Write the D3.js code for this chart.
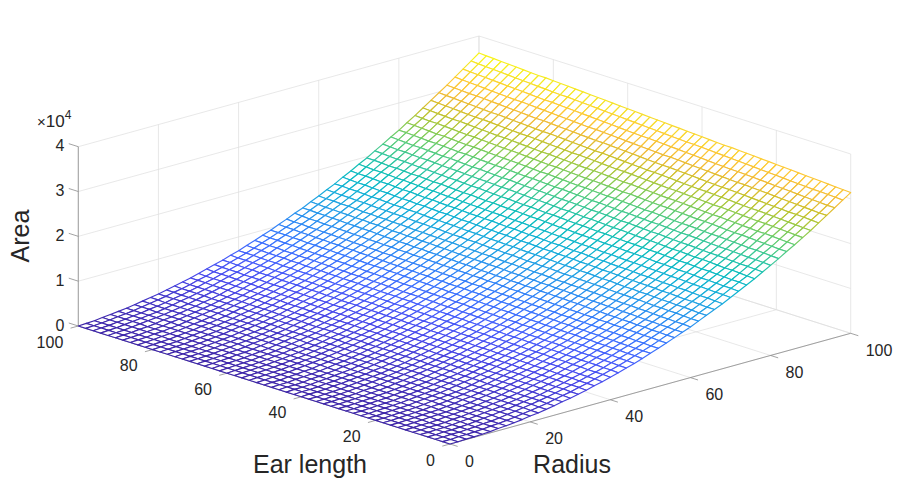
<!DOCTYPE html>
<html>
<head>
<meta charset="utf-8">
<script src="https://cdn.jsdelivr.net/npm/d3@7"></script>
<style>
  html, body { margin: 0; padding: 0; background: #fff; }
  svg { display: block; font-family: "Liberation Sans", Arial, Helvetica, sans-serif; }
</style>
</head>
<body>
<script>
// grid the mesh is sampled on
const radius = [0,2,4,6,8,10,12,14,16,18,20,22,24,26,28,30,32,34,36,38,40,42,44,46,48,50,
  52,54,56,58,60,62,64,66,68,70,72,74,76,78,80,82,84,86,88,90,92,94,96,98,100];
const earLength = [0,2,4,6,8,10,12,14,16,18,20,22,24,26,28,30,32,34,36,38,40,42,44,46,48,50,
  52,54,56,58,60,62,64,66,68,70,72,74,76,78,80,82,84,86,88,90,92,94,96,98,100];

const radiusTicks = [0, 20, 40, 60, 80, 100];
const earTicks = [0, 20, 40, 60, 80, 100];
const areaTicks = [0, 100, 200, 300, 400];          // in hundreds
const areaTickLabels = ['0', '1', '2', '3', '4'];   // shown x10^4

// area / 100, one row per radius value, columns follow earLength
const areaHundreds = [
  [0,0,0,0,0,0,0,0,0,0, 0,0,0,0,0,0,0,0,0,0, 0,0,0,0,0,0,0,0,0,0, 0,0,0,0,0,0,0,0,0,0, 0,0,0,0,0,0,0,0,0,0, 0],
  [0,0,0,0,0,0,0,0,0,0, 0,0,0,0,0,0,0,0,0,0, 1,1,1,1,1,1,1,1,1,1, 1,1,1,1,1,1,1,1,1,1, 1,1,1,1,1,1,1,1,1,1, 1],
  [1,1,1,1,1,1,1,1,1,1, 1,1,1,1,1,1,1,1,1,1, 1,1,1,1,1,1,2,2,2,2, 2,2,2,2,2,2,2,2,2,2, 2,2,2,2,2,2,2,2,2,2, 2],
  [1,1,1,1,1,1,1,2,2,2, 2,2,2,2,2,2,2,2,2,2, 2,2,2,2,3,3,3,3,3,3, 3,3,3,3,3,3,3,3,3,3, 3,3,4,4,4,4,4,4,4,4, 4],
  [2,2,2,2,2,2,2,3,3,3, 3,3,3,3,3,3,3,3,3,3, 4,4,4,4,4,4,4,4,4,4, 4,4,4,5,5,5,5,5,5,5, 5,5,5,5,5,5,6,6,6,6, 6],
  [3,3,3,3,4,4,4,4,4,4, 4,4,4,4,4,5,5,5,5,5, 5,5,5,5,5,6,6,6,6,6, 6,6,6,6,6,7,7,7,7,7, 7,7,7,7,7,7,8,8,8,8, 8],
  [5,5,5,5,5,5,5,5,5,6, 6,6,6,6,6,6,6,6,7,7, 7,7,7,7,7,7,8,8,8,8, 8,8,8,8,8,9,9,9,9,9, 9,9,9,9,10,10,10,10,10,10, 10],
  [6,6,6,7,7,7,7,7,7,7, 8,8,8,8,8,8,8,8,9,9, 9,9,9,9,9,10,10,10,10,10, 10,10,10,11,11,11,11,11,11,11, 12,12,12,12,12,12,12,12,13,13, 13],
  [8,8,8,9,9,9,9,9,9,9, 10,10,10,10,10,10,11,11,11,11, 11,11,11,12,12,12,12,12,12,12, 13,13,13,13,13,13,14,14,14,14, 14,14,14,15,15,15,15,15,15,16, 16],
  [10,10,11,11,11,11,11,11,12,12, 12,12,12,12,13,13,13,13,13,13, 14,14,14,14,14,14,15,15,15,15, 15,16,16,16,16,16,16,17,17,17, 17,17,17,18,18,18,18,18,18,19, 19],
  [13,13,13,13,13,14,14,14,14,14, 14,15,15,15,15,15,16,16,16,16, 16,17,17,17,17,17,18,18,18,18, 18,19,19,19,19,19,19,20,20,20, 20,20,21,21,21,21,21,22,22,22, 22],
  [15,15,16,16,16,16,16,17,17,17, 17,18,18,18,18,18,19,19,19,19, 19,20,20,20,20,20,21,21,21,21, 22,22,22,22,22,23,23,23,23,23, 24,24,24,24,24,25,25,25,25,26, 26],
  [18,18,19,19,19,19,19,20,20,20, 20,21,21,21,21,22,22,22,22,22, 23,23,23,23,24,24,24,24,25,25, 25,25,25,26,26,26,26,27,27,27, 27,28,28,28,28,28,29,29,29,29, 30],
  [21,21,22,22,22,22,23,23,23,23, 24,24,24,24,25,25,25,25,26,26, 26,26,27,27,27,27,28,28,28,28, 29,29,29,29,30,30,30,30,31,31, 31,31,32,32,32,32,33,33,33,33, 34],
  [25,25,25,25,26,26,26,27,27,27, 27,28,28,28,28,29,29,29,29,30, 30,30,31,31,31,31,32,32,32,32, 33,33,33,34,34,34,34,35,35,35, 35,36,36,36,36,37,37,37,38,38, 38],
  [28,29,29,29,29,30,30,30,31,31, 31,31,32,32,32,33,33,33,33,34, 34,34,35,35,35,35,36,36,36,37, 37,37,37,38,38,38,39,39,39,40, 40,40,40,41,41,41,42,42,42,42, 43],
  [32,32,33,33,33,34,34,34,35,35, 35,36,36,36,36,37,37,37,38,38, 38,39,39,39,40,40,40,40,41,41, 41,42,42,42,43,43,43,44,44,44, 44,45,45,45,46,46,46,47,47,47, 48],
  [36,37,37,37,38,38,38,39,39,39, 40,40,40,41,41,41,42,42,42,43, 43,43,43,44,44,44,45,45,45,46, 46,46,47,47,47,48,48,48,49,49, 49,50,50,50,51,51,51,52,52,52, 53],
  [41,41,41,42,42,42,43,43,43,44, 44,45,45,45,46,46,46,47,47,47, 48,48,48,49,49,49,50,50,50,51, 51,51,52,52,52,53,53,54,54,54, 55,55,55,56,56,56,57,57,57,58, 58],
  [45,46,46,46,47,47,48,48,48,49, 49,49,50,50,50,51,51,52,52,52, 53,53,53,54,54,54,55,55,56,56, 56,57,57,57,58,58,58,59,59,60, 60,60,61,61,61,62,62,63,63,63, 64],
  [50,51,51,51,52,52,53,53,53,54, 54,54,55,55,56,56,56,57,57,58, 58,58,59,59,59,60,60,61,61,61, 62,62,63,63,63,64,64,64,65,65, 66,66,66,67,67,68,68,68,69,69, 69],
  [55,56,56,57,57,57,58,58,59,59, 59,60,60,61,61,61,62,62,63,63, 63,64,64,65,65,65,66,66,67,67, 68,68,68,69,69,70,70,70,71,71, 72,72,72,73,73,74,74,74,75,75, 76],
  [61,61,62,62,63,63,63,64,64,65, 65,65,66,66,67,67,68,68,68,69, 69,70,70,71,71,71,72,72,73,73, 73,74,74,75,75,76,76,76,77,77, 78,78,79,79,79,80,80,81,81,82, 82],
  [66,67,67,68,68,69,69,70,70,70, 71,71,72,72,73,73,74,74,74,75, 75,76,76,77,77,78,78,78,79,79, 80,80,81,81,81,82,82,83,83,84, 84,85,85,85,86,86,87,87,88,88, 89],
  [72,73,73,74,74,75,75,76,76,77, 77,77,78,78,79,79,80,80,81,81, 82,82,83,83,83,84,84,85,85,86, 86,87,87,88,88,89,89,89,90,90, 91,91,92,92,93,93,94,94,95,95, 95],
  [79,79,79,80,80,81,81,82,82,83, 83,84,84,85,85,86,86,87,87,88, 88,89,89,90,90,91,91,91,92,92, 93,93,94,94,95,95,96,96,97,97, 98,98,99,99,100,100,101,101,102,102, 103],
  [85,85,86,86,87,87,88,88,89,89, 90,90,91,91,92,92,93,93,94,94, 95,95,96,96,97,97,98,98,99,99, 100,100,101,101,102,102,103,103,104,104, 105,105,106,106,107,107,108,108,109,109, 110],
  [92,92,93,93,94,94,95,95,96,96, 97,97,98,98,99,99,100,100,101,101, 102,102,103,104,104,105,105,106,106,107, 107,108,108,109,109,110,110,111,111,112, 112,113,113,114,114,115,115,116,116,117, 118],
  [99,99,100,100,101,101,102,102,103,103, 104,104,105,106,106,107,107,108,108,109, 109,110,110,111,111,112,112,113,114,114, 115,115,116,116,117,117,118,118,119,119, 120,121,121,122,122,123,123,124,124,125, 125],
  [106,106,107,107,108,108,109,110,110,111, 111,112,112,113,113,114,115,115,116,116, 117,117,118,118,119,120,120,121,121,122, 122,123,124,124,125,125,126,126,127,127, 128,129,129,130,130,131,131,132,132,133, 134],
  [113,114,114,115,115,116,117,117,118,118, 119,119,120,121,121,122,122,123,123,124, 125,125,126,126,127,127,128,129,129,130, 130,131,132,132,133,133,134,134,135,136, 136,137,137,138,138,139,140,140,141,141, 142],
  [121,121,122,123,123,124,124,125,126,126, 127,127,128,129,129,130,130,131,131,132, 133,133,134,134,135,136,136,137,137,138, 139,139,140,140,141,142,142,143,143,144, 145,145,146,146,147,148,148,149,149,150, 151],
  [129,129,130,131,131,132,132,133,134,134, 135,135,136,137,137,138,139,139,140,140, 141,142,142,143,143,144,145,145,146,146, 147,148,148,149,150,150,151,151,152,153, 153,154,154,155,156,156,157,158,158,159, 159],
  [137,137,138,139,139,140,141,141,142,143, 143,144,144,145,146,146,147,148,148,149, 150,150,151,151,152,153,153,154,155,155, 156,156,157,158,158,159,160,160,161,162, 162,163,163,164,165,165,166,167,167,168, 169],
  [145,146,147,147,148,149,149,150,150,151, 152,152,153,154,154,155,156,156,157,158, 158,159,160,160,161,162,162,163,164,164, 165,166,166,167,167,168,169,169,170,171, 171,172,173,173,174,175,175,176,177,177, 178],
  [154,155,155,156,157,157,158,159,159,160, 161,161,162,163,163,164,165,165,166,167, 167,168,169,169,170,171,171,172,173,173, 174,175,175,176,177,177,178,179,179,180, 181,181,182,183,184,184,185,186,186,187, 188],
  [163,164,164,165,166,166,167,168,168,169, 170,170,171,172,173,173,174,175,175,176, 177,177,178,179,179,180,181,182,182,183, 184,184,185,186,186,187,188,188,189,190, 191,191,192,193,193,194,195,195,196,197, 197],
  [172,173,173,174,175,176,176,177,178,178, 179,180,181,181,182,183,183,184,185,186, 186,187,188,188,189,190,191,191,192,193, 193,194,195,195,196,197,198,198,199,200, 200,201,202,203,203,204,205,205,206,207, 208],
  [181,182,183,184,184,185,186,187,187,188, 189,189,190,191,192,192,193,194,195,195, 196,197,198,198,199,200,200,201,202,203, 203,204,205,206,206,207,208,208,209,210, 211,211,212,213,214,214,215,216,216,217, 218],
  [191,192,193,193,194,195,196,196,197,198, 199,199,200,201,202,202,203,204,205,205, 206,207,208,208,209,210,211,211,212,213, 214,214,215,216,217,217,218,219,220,220, 221,222,223,223,224,225,226,226,227,228, 229],
  [201,202,203,203,204,205,206,206,207,208, 209,210,210,211,212,213,213,214,215,216, 216,217,218,219,219,220,221,222,223,223, 224,225,226,226,227,228,229,229,230,231, 232,233,233,234,235,236,236,237,238,239, 239],
  [211,212,213,214,214,215,216,217,218,218, 219,220,221,221,222,223,224,225,225,226, 227,228,229,229,230,231,232,232,233,234, 235,236,236,237,238,239,240,240,241,242, 243,244,244,245,246,247,247,248,249,250, 251],
  [222,222,223,224,225,226,227,227,228,229, 230,231,231,232,233,234,235,235,236,237, 238,239,239,240,241,242,243,243,244,245, 246,247,247,248,249,250,251,252,252,253, 254,255,256,256,257,258,259,260,260,261, 262],
  [232,233,234,235,236,236,237,238,239,240, 241,241,242,243,244,245,246,246,247,248, 249,250,251,251,252,253,254,255,255,256, 257,258,259,260,260,261,262,263,264,265, 265,266,267,268,269,270,270,271,272,273, 274],
  [243,244,245,246,247,248,248,249,250,251, 252,253,253,254,255,256,257,258,258,259, 260,261,262,263,264,264,265,266,267,268, 269,269,270,271,272,273,274,275,275,276, 277,278,279,280,280,281,282,283,284,285, 286],
  [254,255,256,257,258,259,260,261,261,262, 263,264,265,266,267,267,268,269,270,271, 272,273,273,274,275,276,277,278,279,279, 280,281,282,283,284,285,285,286,287,288, 289,290,291,291,292,293,294,295,296,297, 298],
  [266,267,268,269,269,270,271,272,273,274, 275,276,277,277,278,279,280,281,282,283, 284,284,285,286,287,288,289,290,291,292, 292,293,294,295,296,297,298,299,299,300, 301,302,303,304,305,306,307,307,308,309, 310],
  [278,278,279,280,281,282,283,284,285,286, 287,288,288,289,290,291,292,293,294,295, 296,297,297,298,299,300,301,302,303,304, 305,306,306,307,308,309,310,311,312,313, 314,315,315,316,317,318,319,320,321,322, 323],
  [290,290,291,292,293,294,295,296,297,298, 299,300,301,302,302,303,304,305,306,307, 308,309,310,311,312,313,313,314,315,316, 317,318,319,320,321,322,323,324,325,325, 326,327,328,329,330,331,332,333,334,335, 336],
  [302,303,304,305,305,306,307,308,309,310, 311,312,313,314,315,316,317,318,319,320, 321,321,322,323,324,325,326,327,328,329, 330,331,332,333,334,335,336,337,337,338, 339,340,341,342,343,344,345,346,347,348, 349],
  [314,315,316,317,318,319,320,321,322,323, 324,325,326,327,328,329,330,330,331,332, 333,334,335,336,337,338,339,340,341,342, 343,344,345,346,347,348,349,350,351,352, 353,354,354,355,356,357,358,359,360,361, 362]
];

areaHundreds.forEach((row, i) => {
  if (row.length !== earLength.length) throw new Error('row ' + i + ' has ' + row.length + ' values');
});

// MATLAB parula, sampled
const parula = [
  [0.000, '#3e26a8'], [0.111, '#4747eb'], [0.175, '#465efb'], [0.238, '#3875fe'],
  [0.302, '#2d8cf3'], [0.365, '#23a0e5'], [0.429, '#12b1d6'], [0.492, '#0bbdbd'],
  [0.556, '#31c69f'], [0.619, '#57cc7a'], [0.683, '#8fcb4e'], [0.746, '#c5c22a'],
  [0.810, '#f0ba36'], [0.873, '#fec934'], [0.937, '#f5e327'], [1.000, '#f9fb15']
];

const width = 900, height = 500;
const textColor = '#262626';
const gridColor = '#dedede';

const svg = d3.select('body').append('svg')
  .attr('width', width)
  .attr('height', height);

svg.append('rect').attr('width', width).attr('height', height).attr('fill', '#fff');

// projected box: origin corner, radius edge, ear-length edge, height of z range
const origin = [450, 444];
const rVec = [400.7, -110.7];
const eVec = [-371.7, -118];

const rScale = d3.scaleLinear().domain([0, 100]).range([0, 1]);
const eScale = d3.scaleLinear().domain([0, 100]).range([0, 1]);
const zScale = d3.scaleLinear().domain([0, 400]).range([0, 179.3]);

function project(r, e, a) {
  const u = rScale(r), v = eScale(e);
  return [origin[0] + rVec[0] * u + eVec[0] * v,
          origin[1] + rVec[1] * u + eVec[1] * v - zScale(a)];
}

// grid on the back walls and the floor
const gridSegs = [];
radiusTicks.forEach(r => gridSegs.push([project(r, 100, 0), project(r, 100, 400)]));
areaTicks.forEach(a => gridSegs.push([project(0, 100, a), project(100, 100, a)]));
earTicks.forEach(e => gridSegs.push([project(100, e, 0), project(100, e, 400)]));
areaTicks.forEach(a => gridSegs.push([project(100, 0, a), project(100, 100, a)]));
radiusTicks.forEach(r => gridSegs.push([project(r, 0, 0), project(r, 100, 0)]));
earTicks.forEach(e => gridSegs.push([project(0, e, 0), project(100, e, 0)]));

svg.append('g')
  .selectAll('line')
  .data(gridSegs)
  .join('line')
  .attr('x1', d => d[0][0]).attr('y1', d => d[0][1])
  .attr('x2', d => d[1][0]).attr('y2', d => d[1][1])
  .attr('stroke', gridColor)
  .attr('stroke-width', 0.7);

// axis lines and ticks
const unit = v => { const l = Math.hypot(v[0], v[1]); return [v[0] / l, v[1] / l]; };
const rOut = unit([-eVec[0], -eVec[1]]);   // radius ticks point away from the ear axis
const eOut = unit([-rVec[0], -rVec[1]]);
const zOut = unit(eVec);

const axisG = svg.append('g').attr('stroke', '#8c8c8c').attr('stroke-width', 0.8);
const axisSegs = [
  [project(0, 0, 0), project(100, 0, 0)],
  [project(0, 0, 0), project(0, 100, 0)],
  [project(0, 100, 0), project(0, 100, 400)]
];
radiusTicks.forEach(r => { const p = project(r, 0, 0); axisSegs.push([p, [p[0] + rOut[0] * 8, p[1] + rOut[1] * 8]]); });
earTicks.forEach(e => { const p = project(0, e, 0); axisSegs.push([p, [p[0] + eOut[0] * 8, p[1] + eOut[1] * 8]]); });
areaTicks.forEach(a => { const p = project(0, 100, a); axisSegs.push([p, [p[0] + zOut[0] * 10, p[1] + zOut[1] * 10]]); });

axisG.selectAll('line')
  .data(axisSegs)
  .join('line')
  .attr('x1', d => d[0][0]).attr('y1', d => d[0][1])
  .attr('x2', d => d[1][0]).attr('y2', d => d[1][1]);

// mesh surface, painted back to front with white faces
const maxArea = d3.max(areaHundreds, row => d3.max(row));
const color = d3.scaleLinear()
  .domain(parula.map(d => d[0] * maxArea))
  .range(parula.map(d => d[1]))
  .interpolate(d3.interpolateRgb)
  .clamp(true);

const cells = [];
for (let i = 0; i < radius.length - 1; i++) {
  for (let j = 0; j < earLength.length - 1; j++) {
    const corners = [[i, j], [i + 1, j], [i + 1, j + 1], [i, j + 1]];
    const pts = corners.map(([a, b]) => project(radius[a], earLength[b], areaHundreds[a][b]));
    const mean = d3.mean(corners, ([a, b]) => areaHundreds[a][b]);
    cells.push({ pts, mean, depth: 0.68 * (i + 0.5) + 0.72 * (j + 0.5) });
  }
}
cells.sort((a, b) => b.depth - a.depth);

svg.append('g')
  .selectAll('path')
  .data(cells)
  .join('path')
  .attr('d', d => 'M' + d.pts.map(p => p[0].toFixed(2) + ',' + p[1].toFixed(2)).join('L') + 'Z')
  .attr('fill', '#fff')
  .attr('stroke', d => color(d.mean))
  .attr('stroke-width', 1.15)
  .attr('stroke-linejoin', 'round');

// tick labels
const labels = svg.append('g').attr('fill', textColor).style('font-size', '16px');

labels.selectAll('.rt')
  .data(radiusTicks)
  .join('text')
  .attr('class', 'rt')
  .attr('x', d => project(d, 0, 0)[0] + 15)
  .attr('y', d => project(d, 0, 0)[1] + 17)
  .attr('dominant-baseline', 'central')
  .attr('text-anchor', 'start')
  .text(d => d);

labels.selectAll('.et')
  .data(earTicks)
  .join('text')
  .attr('class', 'et')
  .attr('x', d => project(0, d, 0)[0] - 15)
  .attr('y', d => project(0, d, 0)[1] + 16)
  .attr('dominant-baseline', 'central')
  .attr('text-anchor', 'end')
  .text(d => d);

labels.selectAll('.zt')
  .data(areaTicks)
  .join('text')
  .attr('class', 'zt')
  .attr('x', d => project(0, 100, d)[0] - 14)
  .attr('y', d => project(0, 100, d)[1] - 1)
  .attr('dominant-baseline', 'central')
  .attr('text-anchor', 'end')
  .text((d, i) => areaTickLabels[i]);

const expo = labels.append('text').attr('x', 37).attr('y', 127);
expo.append('tspan').style('font-size', '15px').text('\u00d7');
expo.append('tspan').style('font-size', '17px').text('10');
expo.append('tspan').style('font-size', '12px').attr('dy', -8).text('4');

// axis titles
const titles = svg.append('g').attr('fill', textColor).style('font-size', '25px');
titles.append('text').attr('x', 310).attr('y', 473).attr('text-anchor', 'middle').text('Ear length');
titles.append('text').attr('x', 572).attr('y', 473).attr('text-anchor', 'middle').text('Radius');
titles.append('text')
  .attr('transform', 'translate(29,236) rotate(-90)')
  .attr('text-anchor', 'middle')
  .text('Area');
</script>
</body>
</html>
